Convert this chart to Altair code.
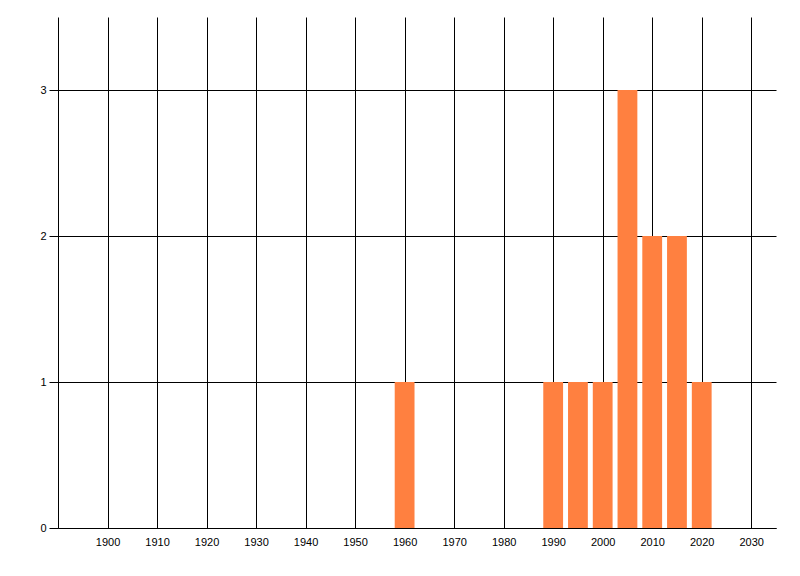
import altair as alt
import pandas as pd

years = [1960, 1990, 1995, 2000, 2005, 2010, 2015, 2020]
counts = [1, 1, 1, 1, 3, 2, 2, 1]
x_ticks = list(range(1900, 2031, 10))
y_ticks = [0, 1, 2, 3]

df = pd.DataFrame({"year": years, "count": counts})

axis_style = dict(
    grid=True,
    gridColor="black",
    gridWidth=1,
    gridOpacity=1,
    domainColor="black",
    domainWidth=1,
    labelFont="Liberation Sans",
    labelFontSize=11,
    labelColor="black",
    title=None,
)

bars = alt.Chart(df).transform_calculate(
    x0="datum.year - 2", x1="datum.year + 2"
).mark_rect(color="#FF8040").encode(
    x=alt.X("x0:Q",
            scale=alt.Scale(domain=[1890, 2035], nice=False, zero=False),
            axis=alt.Axis(values=x_ticks, format="d", ticks=False,
                          labelPadding=8, **axis_style)),
    x2="x1:Q",
    y=alt.Y("count:Q",
            scale=alt.Scale(domain=[0, 3.5], nice=False),
            axis=alt.Axis(values=y_ticks, format="d", tickColor="black",
                          tickSize=9, labelPadding=3, **axis_style)),
    y2=alt.datum(0),
)

chart = bars.properties(
    width=718,
    height=511,
    autosize=alt.AutoSizeParams(type="none"),
    padding={"left": 50, "top": 9, "right": 10, "bottom": 30},
    background="white",
).configure_view(stroke=None)

chart.save("out.html", embed_options={"renderer": "svg", "actions": False})
